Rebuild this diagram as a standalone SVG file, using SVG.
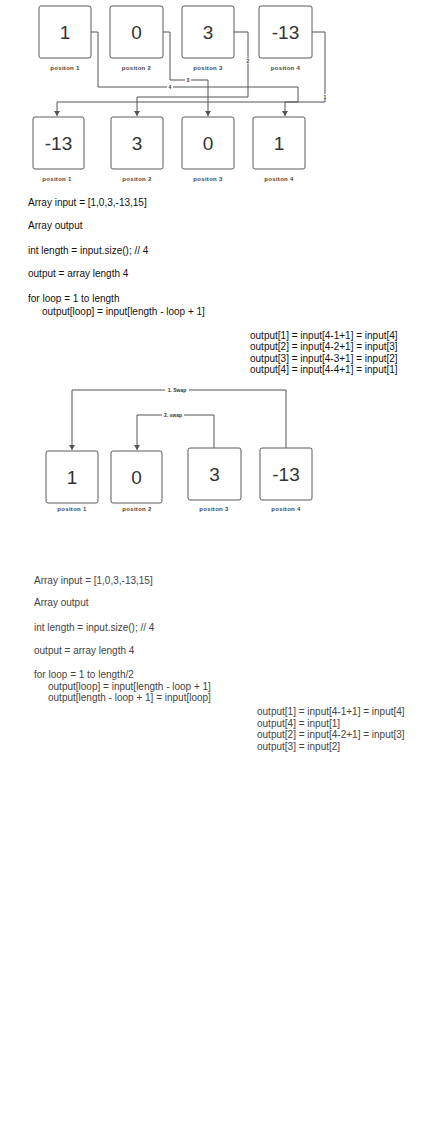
<svg xmlns="http://www.w3.org/2000/svg" width="442" height="1123" viewBox="0 0 442 1123">
<defs>
<marker id="ah" markerWidth="6" markerHeight="6" refX="5" refY="3" orient="auto" markerUnits="userSpaceOnUse">
<path d="M0,0 L5,3 L0,6 Z" fill="#555"/>
</marker>
<style>
.box{fill:#fff;stroke:#5a5a5a;stroke-width:1}
.num{font-family:"Liberation Sans",Arial,sans-serif;font-size:19px;fill:#333;text-anchor:middle}
.lbl{font-family:"Liberation Sans",Arial,sans-serif;font-size:6px;font-weight:bold;fill:#444;text-anchor:middle;letter-spacing:0.3px}
.cl{font-family:"Liberation Sans",Arial,sans-serif;font-size:5px;font-weight:bold;fill:#333;text-anchor:middle}
.code{font-family:"Liberation Sans",Arial,sans-serif;font-size:10px;fill:#111}
.code2{font-family:"Liberation Sans",Arial,sans-serif;font-size:10px;fill:#444}
.conn{fill:none;stroke:#555;stroke-width:1}
</style>
</defs>
<rect width="442" height="1123" fill="#fff"/>

<!-- Section 1 top row -->
<g id="t1"><rect class="box" x="39" y="6" width="52" height="52" rx="2"/><text class="num" x="65" y="39">1</text><text class="lbl" x="65" y="70">positon 1</text></g>
<g id="t2"><rect class="box" x="110" y="6" width="53" height="52" rx="2"/><text class="num" x="136.5" y="39">0</text><text class="lbl" x="136.5" y="70">positon 2</text></g>
<g id="t3"><rect class="box" x="182" y="6" width="52" height="52" rx="2"/><text class="num" x="208" y="39">3</text><text class="lbl" x="208" y="70">positon 3</text></g>
<g id="t4"><rect class="box" x="259" y="6" width="53" height="52" rx="2"/><text class="num" x="285.5" y="39">-13</text><text class="lbl" x="285.5" y="70">positon 4</text></g>

<!-- Section 1 bottom row -->
<g id="b1"><rect class="box" x="33" y="117" width="51" height="52" rx="2"/><text class="num" x="58.5" y="150">-13</text><text class="lbl" x="57" y="181">positon 1</text></g>
<g id="b2"><rect class="box" x="111" y="117" width="52" height="52" rx="2"/><text class="num" x="137" y="150">3</text><text class="lbl" x="137" y="181">positon 2</text></g>
<g id="b3"><rect class="box" x="182" y="117" width="52" height="52" rx="2"/><text class="num" x="208" y="150">0</text><text class="lbl" x="208" y="181">positon 3</text></g>
<g id="b4"><rect class="box" x="253" y="117" width="52" height="52" rx="2"/><text class="num" x="279" y="150">1</text><text class="lbl" x="279" y="181">positon 4</text></g>

<!-- Section 2 boxes -->
<g id="s1"><rect class="box" x="46" y="451" width="52" height="52" rx="2"/><text class="num" x="72" y="484">1</text><text class="lbl" x="72" y="511">positon 1</text></g>
<g id="s2"><rect class="box" x="111" y="451" width="51" height="52" rx="2"/><text class="num" x="136.5" y="484">0</text><text class="lbl" x="137" y="511">positon 2</text></g>
<g id="s3"><rect class="box" x="188" y="448" width="53" height="52" rx="2"/><text class="num" x="214.5" y="481">3</text><text class="lbl" x="214" y="511">positon 3</text></g>
<g id="s4"><rect class="box" x="260" y="448" width="52" height="52" rx="2"/><text class="num" x="286" y="481">-13</text><text class="lbl" x="286" y="511">positon 4</text></g>

<!-- Connectors -->
<g id="connectors">
<path class="conn" d="M91,32 H98 V87 H298 V102 H285 V116" marker-end="url(#ah)"/>
<path class="conn" d="M163,32 H170 V80 H208 V116" marker-end="url(#ah)"/>
<path class="conn" d="M234,32 H248 V97 H137 V116" marker-end="url(#ah)"/>
<path class="conn" d="M312,32 H325 V102 H57 V116" marker-end="url(#ah)"/>
<rect x="167" y="84.5" width="6" height="5" fill="#fff"/><text class="cl" x="170" y="89">4</text>
<rect x="185" y="77.5" width="6" height="5" fill="#fff"/><text class="cl" x="188" y="82">3</text>
<rect x="245" y="58.5" width="6" height="5" fill="#fff"/><text class="cl" x="248" y="63">2</text>
<rect x="322" y="94" width="6" height="5" fill="#fff"/><text class="cl" x="325" y="98.5">1</text>

<path class="conn" d="M286,448 V390 H72 V450" marker-end="url(#ah)"/>
<path class="conn" d="M214,448 V415 H137 V450" marker-end="url(#ah)"/>
<rect x="165" y="387" width="24" height="6" fill="#fff"/><text class="cl" x="177" y="392">1. Swap</text>
<rect x="162" y="412" width="22" height="6" fill="#fff"/><text class="cl" x="173" y="417">2. swap</text>
</g>

<!-- Text section 1 -->
<g id="code1">
<text class="code" x="28" y="206">Array input = [1,0,3,-13,15]</text>
<text class="code" x="28" y="229">Array output</text>
<text class="code" x="28" y="254">int length = input.size(); // 4</text>
<text class="code" x="28" y="277">output = array length 4</text>
<text class="code" x="28" y="302">for loop = 1 to length</text>
<text class="code" x="42" y="315">output[loop] = input[length - loop + 1]</text>
</g>
<g id="calc1">
<text class="code" x="250" y="338.5">output[1] = input[4-1+1] = input[4]</text>
<text class="code" x="250" y="350">output[2] = input[4-2+1] = input[3]</text>
<text class="code" x="250" y="361.5">output[3] = input[4-3+1] = input[2]</text>
<text class="code" x="250" y="373">output[4] = input[4-4+1] = input[1]</text>
</g>

<!-- Text section 3 -->
<g id="code2">
<text class="code2" x="34" y="583.5">Array input = [1,0,3,-13,15]</text>
<text class="code2" x="34" y="606">Array output</text>
<text class="code2" x="34" y="631">int length = input.size(); // 4</text>
<text class="code2" x="34" y="653.5">output = array length 4</text>
<text class="code2" x="34" y="678">for loop = 1 to length/2</text>
<text class="code2" x="48" y="689.5">output[loop] = input[length - loop + 1]</text>
<text class="code2" x="48" y="701">output[length - loop + 1] = input[loop]</text>
</g>
<g id="calc2">
<text class="code2" x="257" y="715">output[1] = input[4-1+1] = input[4]</text>
<text class="code2" x="257" y="726.5">output[4] = input[1]</text>
<text class="code2" x="257" y="738">output[2] = input[4-2+1] = input[3]</text>
<text class="code2" x="257" y="749.5">output[3] = input[2]</text>
</g>
</svg>
